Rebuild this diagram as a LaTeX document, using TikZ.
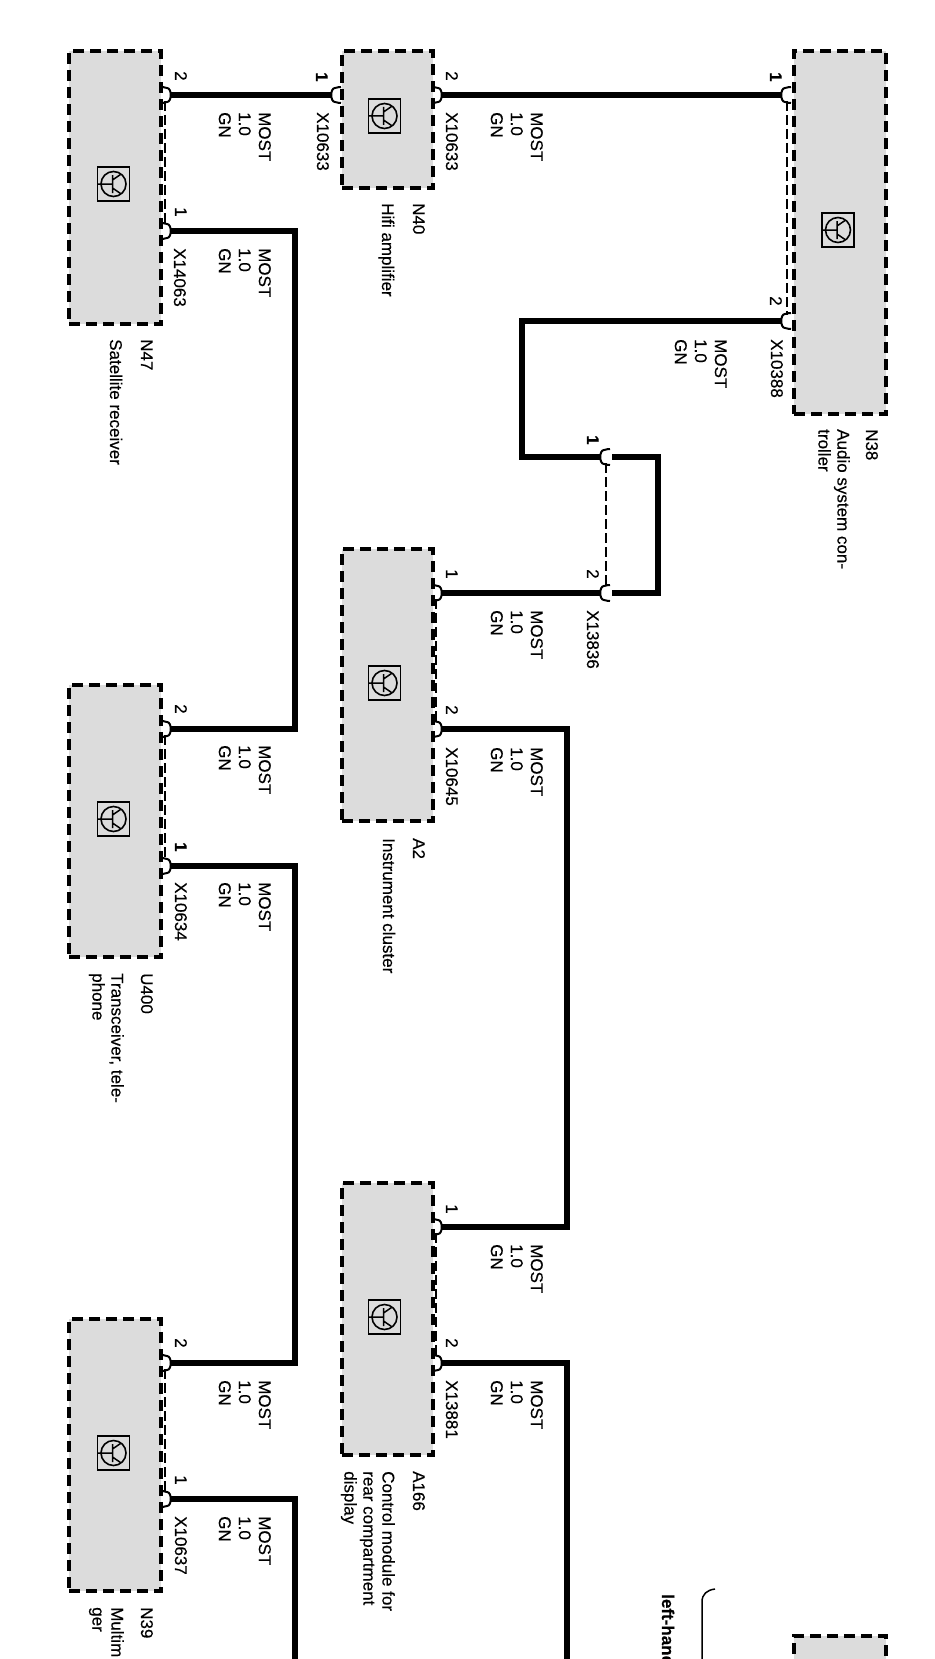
\documentclass[tikz,border=0pt]{standalone}
\usepackage{fontspec}
\setmainfont{Liberation Sans}[FakeBold=0.25]
\tikzset{
  ecu/.style={draw=black,fill=ecugrey,line width=4pt,dash pattern=on 11pt off 6pt,rectangle,inner sep=0pt,anchor=north west},
  wire/.style={draw=black,line width=5.5pt,line join=miter,line cap=butt},
  loopwire/.style={wire,line width=6.5pt},
  shield/.style={draw=black,line width=1.3pt,dash pattern=on 10pt off 4pt,shorten >=6pt,shorten <=6pt},
  lbl/.style={rotate=-90,anchor=base west,inner sep=0pt,font=\fontsize{17}{19}\selectfont},
  blk/.style={rotate=-90,anchor=north west,inner sep=0pt,align=left,font=\fontsize{17}{19}\selectfont},
  cable/.style={blk,font=\fontsize{17}{20}\selectfont},
  pinbold/.style={lbl,font=\fontsize{17}{19}\bfseries\selectfont},
  hookR/.pic={\fill[white] (-5,-5) rectangle (-1,5);
    \draw[line width=2pt,black] (-9,-8) .. controls (-5,-8) and (-5,-7) .. (-3,-7) .. controls (2,-7) and (2,7) .. (-3,7) .. controls (-5,7) and (-5,8) .. (-9,8);},
  hookL/.pic={\fill[white] (5,-5) rectangle (1,5);
    \draw[line width=2pt,black] (9,-8) .. controls (5,-8) and (5,-7) .. (3,-7) .. controls (-2,-7) and (-2,7) .. (3,7) .. controls (5,7) and (5,8) .. (9,8);},
  transistor/.pic={
    \draw[line width=1.5pt,black,fill=ecugrey] (-16,-17) rectangle (16,17);
    \draw[line width=1.6pt,black] (0,0) circle (12.5);
    \draw[line width=1.5pt,black] (-16,0) -- (-1,0) (-1,-9) -- (-1,9) (-1,-4) -- (7,-9.5) (-1,4) -- (7,9.5);}
}
\definecolor{ecugrey}{HTML}{DCDCDC}
\begin{document}
\begin{tikzpicture}[x=1pt,y=-1pt]
\useasboundingbox (0,0) rectangle (934,1659);
\clip (0,0) rectangle (934,1659);
% control units
\node[ecu,minimum width=92pt,minimum height=273pt] (N47) at (67,49) {};
\node[ecu,minimum width=91pt,minimum height=137pt] (N40) at (340,49) {};
\node[ecu,minimum width=92pt,minimum height=363pt] (N38) at (792,49) {};
\node[ecu,minimum width=91pt,minimum height=272pt] (A2) at (340,547) {};
\node[ecu,minimum width=92pt,minimum height=272pt] (U400) at (67,683) {};
\node[ecu,minimum width=91pt,minimum height=272pt] (A166) at (340,1181) {};
\node[ecu,minimum width=92pt,minimum height=272pt] (N39) at (67,1317) {};
\node[ecu,minimum width=92pt,minimum height=200pt] (Nx) at (792,1634) {};
% icons
\pic at (113.5,184) {transistor};
\pic at (384.5,116) {transistor};
\pic at (838,230) {transistor};
\pic at (384.5,683) {transistor};
\pic at (113.5,819) {transistor};
\pic at (384.5,1317) {transistor};
\pic at (113.5,1453) {transistor};
% pins
\coordinate (n47a) at (170,95);
\coordinate (n47b) at (170,231);
\coordinate (n40a) at (332,95);
\coordinate (n40b) at (441,95);
\coordinate (n38a) at (782,95);
\coordinate (n38b) at (782,321);
\coordinate (xa) at (601,457);
\coordinate (xb) at (601,593);
\coordinate (xc) at (612,457);
\coordinate (xd) at (612,593);
\coordinate (a2a) at (441,593);
\coordinate (a2b) at (441,729);
\coordinate (u4a) at (170,729);
\coordinate (u4b) at (170,866);
\coordinate (a1a) at (441,1227);
\coordinate (a1b) at (441,1363);
\coordinate (n39a) at (170,1363);
\coordinate (n39b) at (170,1499);
\coordinate (endA) at (295,1680);
\coordinate (endB) at (567,1680);
% wires
\draw[wire] (n47a) -- (n40a);
\draw[wire] (n40b) -- (n38a);
\draw[wire] (n47b) -| (295,480) |- (u4a);
\draw[wire] (u4b) -| (295,1100) |- (n39a);
\draw[wire] (n39b) -| (endA);
\draw[loopwire] (n38b) -| (522,400) |- (xa);
\draw[loopwire] (xc) -| (658,520) |- (xd);
\draw[wire] (xb) -- (a2a);
\draw[wire] (a2b) -| (567,1000) |- (a1a);
\draw[wire] (a1b) -| (endB);
% shields
\draw[shield] ([xshift=-5pt]n47a) -- ([xshift=-5pt]n47b);
\draw[shield] ([xshift=-5pt]u4a) -- ([xshift=-5pt]u4b);
\draw[shield] ([xshift=-5pt]n39a) -- ([xshift=-5pt]n39b);
\draw[shield] ([xshift=-5pt]a2a) -- ([xshift=-5pt]a2b);
\draw[shield] ([xshift=-5pt]a1a) -- ([xshift=-5pt]a1b);
\draw[shield] ([xshift=5pt]n38a) -- ([xshift=5pt]n38b);
\draw[shield] ([xshift=5pt]xa) -- ([xshift=5pt]xb);
% pin hooks
\foreach \p in {n47a,n47b,n40b,a2a,a2b,u4a,u4b,a1a,a1b,n39a,n39b} \pic at (\p) {hookR};
\foreach \p in {n40a,n38a,n38b,xa,xb} \pic at (\p) {hookL};
% pin numbers
\node[lbl] (t1) at (175,71) {2};
\node[lbl] (t2) at (175,207) {1};
\node[pinbold] (t3) at (316,72) {1};
\node[lbl] (t4) at (446,71) {2};
\node[pinbold] (t5) at (770,72) {1};
\node[lbl] (t6) at (770,296) {2};
\node[pinbold] (t7) at (587,435) {1};
\node[lbl] (t8) at (587,569) {2};
\node[lbl] (t9) at (446,569) {1};
\node[lbl] (t10) at (446,705) {2};
\node[lbl] (t11) at (175,704) {2};
\node[pinbold] (t12) at (175,842) {1};
\node[lbl] (t13) at (446,1204) {1};
\node[lbl] (t14) at (446,1338) {2};
\node[lbl] (t15) at (175,1338) {2};
\node[lbl] (t16) at (175,1475) {1};
% connector names
\node[lbl] (c1) at (174,248) {X14063};
\node[lbl] (c2) at (317,112) {X10633};
\node[lbl] (c3) at (446,112) {X10633};
\node[lbl] (c4) at (771,339) {X10388};
\node[lbl] (c5) at (587,610) {X13836};
\node[lbl] (c6) at (446,747) {X10645};
\node[lbl] (c7) at (175,882) {X10634};
\node[lbl] (c8) at (446,1380) {X13881};
\node[lbl] (c9) at (175,1516) {X10637};
% cable data
\node[cable] (m1) at (271,112) {MOST\\1.0\\GN};
\node[cable] (m2) at (271,248) {MOST\\1.0\\GN};
\node[cable] (m3) at (543,112) {MOST\\1.0\\GN};
\node[cable] (m4) at (727,339) {MOST\\1.0\\GN};
\node[cable] (m5) at (543,610) {MOST\\1.0\\GN};
\node[cable] (m6) at (543,747) {MOST\\1.0\\GN};
\node[cable] (m7) at (271,745) {MOST\\1.0\\GN};
\node[cable] (m8) at (271,882) {MOST\\1.0\\GN};
\node[cable] (m9) at (543,1244) {MOST\\1.0\\GN};
\node[cable] (m10) at (543,1380) {MOST\\1.0\\GN};
\node[cable] (m11) at (271,1380) {MOST\\1.0\\GN};
\node[cable] (m12) at (271,1516) {MOST\\1.0\\GN};
% unit names
\node[lbl] (n1) at (141,339) {N47};
\node[lbl] (n2) at (110,339) {Satellite receiver};
\node[lbl] (n3) at (413,203) {N40};
\node[lbl] (n4) at (382,203) {Hifi amplifier};
\node[lbl] (n5) at (866,429) {N38};
\node[blk] (n6) at (850,429) {Audio system con-\\troller};
\node[lbl] (n7) at (413,838) {A2};
\node[lbl] (n8) at (383,838) {Instrument cluster};
\node[lbl] (n9) at (141,973) {U400};
\node[blk] (n10) at (124,973) {Transceiver, tele-\\phone};
\node[lbl] (n11) at (413,1471) {A166};
\node[blk] (n12) at (395,1471) {Control module for\\rear compartment\\display};
\node[lbl] (n13) at (141,1607) {N39};
\node[blk] (n14) at (124,1607) {Multim\\ger};
% bracket
\coordinate (brA) at (715,1589);
\coordinate (brB) at (702,1680);
\draw[line width=1.5pt,black] (brA) .. controls (707,1590) and (702,1594) .. (702,1602) -- (brB);
\node[pinbold] (n15) at (662,1594) {left-hand};
\end{tikzpicture}
\end{document}
